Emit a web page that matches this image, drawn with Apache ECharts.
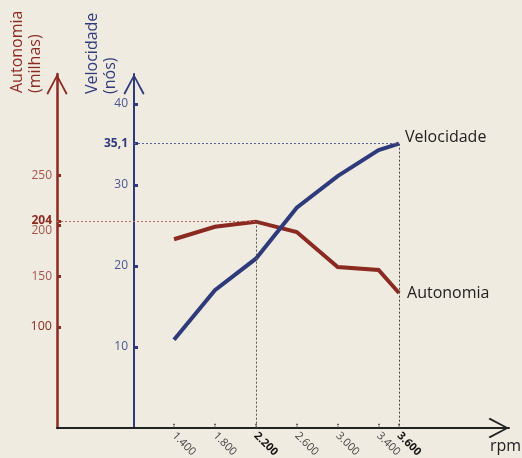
<!DOCTYPE html>
<html><head><meta charset="utf-8">
<script src="https://cdn.jsdelivr.net/npm/echarts@6/dist/echarts.min.js"></script>
<style>html,body{margin:0;padding:0;background:#f0ebe1}#c{width:522px;height:458px}</style>
</head><body><div id="c"></div>
<script>
// ---- data ----
const rpm = [1400, 1800, 2200, 2600, 3000, 3400, 3600];
const rpmLabels = ['1.400', '1.800', '2.200', '2.600', '3.000', '3.400', '3.600'];
const rpmBold = [2200, 3600];
const autonomia = [186.6, 199, 204, 193.8, 159.2, 156.2, 133.5];   // milhas
const velocidade = [10.9, 17.0, 20.9, 27.2, 31.1, 34.3, 35.1];     // nós
const autonomiaTicks = [100, 150, 200, 204, 250];
const velocidadeTicks = [10, 20, 30, 35.1, 40];
const autonomiaMark = 204, autonomiaMarkRpm = 2200;
const velocidadeMark = 35.1, velocidadeMarkRpm = 3600;

// ---- layout constants ----
const RED = '#8b2a21', RED_L = '#a4554d', BLUE = '#2f3a7a', BLUE_L = '#4a5590', DARK = '#222';
const GRID_L = 57, GRID_R = 13, GRID_T = 74, GRID_B = 30, W = 522;
const X_MIN = 256, X_MAX = 4675;
const VEL_OFFSET = 77;
const velAxisRpm = X_MIN + VEL_OFFSET / (W - GRID_L - GRID_R) * (X_MAX - X_MIN);
const ARROW = 'path://M0,0 L10.5,19.5 L9,20.8 L0,3.6 L-9,20.8 L-10.5,19.5 Z';
const FONT = 'Open Sans';

const chart = echarts.init(document.getElementById('c'), null, {renderer: 'canvas'});
chart.setOption({
  backgroundColor: '#f0ebe1',
  animation: false,
  textStyle: {fontFamily: FONT},
  grid: {left: GRID_L, right: GRID_R, top: GRID_T, bottom: GRID_B, containLabel: false, outerBoundsMode: 'none'},
  xAxis: {
    type: 'value', min: X_MIN, max: X_MAX,
    name: '{sp|}\n{r|rpm}', nameLocation: 'end', nameGap: -19, nameMoveOverlap: false,
    nameTextStyle: {color: DARK, fontSize: 16, fontFamily: FONT, align: 'left', verticalAlign: 'middle',
      rich: {sp: {lineHeight: 36, fontSize: 16}, r: {fontSize: 16, lineHeight: 20, color: DARK, fontFamily: FONT}}},
    axisLine: {show: true, onZero: false, symbol: ['none', ARROW], symbolSize: [22, 20.5], symbolOffset: [0, -10.2],
      lineStyle: {color: DARK, width: 2}},
    axisTick: {show: true, inside: true, length: 5, customValues: rpm, lineStyle: {color: '#333', width: 1.5, type: [1.5, 1.2]}},
    axisLabel: {show: true, customValues: rpm, rotate: -45, margin: 6, fontSize: 11, color: '#444', fontFamily: FONT,
      formatter: v => { const t = rpmLabels[rpm.indexOf(v)]; return rpmBold.indexOf(v) >= 0 ? '{b|' + t + '}' : t; },
      rich: {b: {fontWeight: 'bold', color: '#111', fontSize: 11, fontFamily: FONT}}},
    splitLine: {show: false}
  },
  yAxis: [
    {
      type: 'value', min: 0, max: 350, position: 'left', offset: 0,
      name: '{n|Autonomia}\n{n|(milhas)}\n{sp|}', nameLocation: 'end', nameRotate: 90, nameGap: -19, nameMoveOverlap: false,
      nameTextStyle: {color: RED, fontSize: 16, fontFamily: FONT,
        rich: {n: {fontSize: 16, lineHeight: 18, color: RED, fontFamily: FONT}, sp: {lineHeight: 62, fontSize: 16}}},
      axisLine: {show: true, symbol: ['none', ARROW], symbolSize: [21, 20.8], symbolOffset: [0, -10.4],
        lineStyle: {color: RED, width: 2.5}},
      axisTick: {show: true, inside: true, length: 4, customValues: autonomiaTicks, lineStyle: {color: RED, width: 3}},
      axisLabel: {show: true, customValues: autonomiaTicks, margin: 5, fontSize: 12, fontFamily: FONT,
        formatter: v => v === 204 ? '{b|204}' : v === 100 ? '{d|100}' : v === 200 ? '{s|200}' : '{l|' + v + '}',
        rich: {
          b: {fontWeight: 'bold', color: RED, fontSize: 12, fontFamily: FONT, padding: [0, 0, 3, 0]},
          d: {color: RED, fontSize: 12.5, fontFamily: FONT},
          l: {color: RED_L, fontSize: 12, fontFamily: FONT},
          s: {color: RED_L, fontSize: 12, fontFamily: FONT, padding: [9, 0, 0, 0]}
        }},
      splitLine: {show: false}
    },
    {
      type: 'value', min: 0, max: 43.7, position: 'left', offset: -VEL_OFFSET,
      name: '{n|Velocidade}\n{n|(nós)}\n{sp|}', nameLocation: 'end', nameRotate: 90, nameGap: -20, nameMoveOverlap: false,
      nameTextStyle: {color: BLUE, fontSize: 16, fontFamily: FONT,
        rich: {n: {fontSize: 16, lineHeight: 18, color: BLUE, fontFamily: FONT}, sp: {lineHeight: 66, fontSize: 16}}},
      axisLine: {show: true, symbol: ['none', ARROW], symbolSize: [21, 20.8], symbolOffset: [0, -10.4],
        lineStyle: {color: BLUE, width: 2}},
      axisTick: {show: true, inside: true, length: 4, customValues: velocidadeTicks, lineStyle: {color: BLUE, width: 3}},
      axisLabel: {show: true, customValues: velocidadeTicks, margin: 6, fontSize: 12, color: BLUE_L, fontFamily: FONT,
        formatter: v => v === velocidadeMark ? '{b|' + String(v).replace('.', ',') + '}' : String(v),
        rich: {b: {fontWeight: 'bold', color: BLUE, fontSize: 12, fontFamily: FONT}}},
      splitLine: {show: false}
    }
  ],
  series: [
    {
      name: 'Autonomia', type: 'line', yAxisIndex: 0, showSymbol: false, symbol: 'none',
      data: rpm.map((r, i) => [r, autonomia[i]]),
      lineStyle: {color: RED, width: 4, join: 'miter'}, itemStyle: {color: RED},
      endLabel: {show: true, formatter: '{a}', color: DARK, fontSize: 16, fontFamily: FONT, distance: 8},
      markLine: {
        silent: true, symbol: ['none', 'none'], label: {show: false}, animation: false,
        lineStyle: {type: [2, 2], width: 1, color: '#555'},
        data: [
          [{coord: [autonomiaMarkRpm, autonomiaMark]}, {coord: [autonomiaMarkRpm, 0]}],
          [{coord: [X_MIN, autonomiaMark], lineStyle: {color: '#b56a60', type: [2, 2], width: 1}},
           {coord: [autonomiaMarkRpm, autonomiaMark], lineStyle: {color: '#b56a60', type: [2, 2], width: 1}}]
        ]
      }
    },
    {
      name: 'Velocidade', type: 'line', yAxisIndex: 1, showSymbol: false, symbol: 'none',
      data: rpm.map((r, i) => [r, velocidade[i]]),
      lineStyle: {color: BLUE, width: 4, join: 'miter'}, itemStyle: {color: BLUE},
      endLabel: {show: true, formatter: '{a}', color: DARK, fontSize: 16, fontFamily: FONT, distance: 6, offset: [0, -6]},
      markLine: {
        silent: true, symbol: ['none', 'none'], label: {show: false}, animation: false,
        lineStyle: {type: [2, 2], width: 1, color: '#444'},
        data: [
          [{coord: [velocidadeMarkRpm, velocidadeMark]}, {coord: [velocidadeMarkRpm, 0]}],
          [{coord: [velAxisRpm, velocidadeMark], lineStyle: {color: '#5a6398', type: [2, 2], width: 1}},
           {coord: [velocidadeMarkRpm, velocidadeMark], lineStyle: {color: '#5a6398', type: [2, 2], width: 1}}]
        ]
      }
    }
  ]
});
</script></body></html>
